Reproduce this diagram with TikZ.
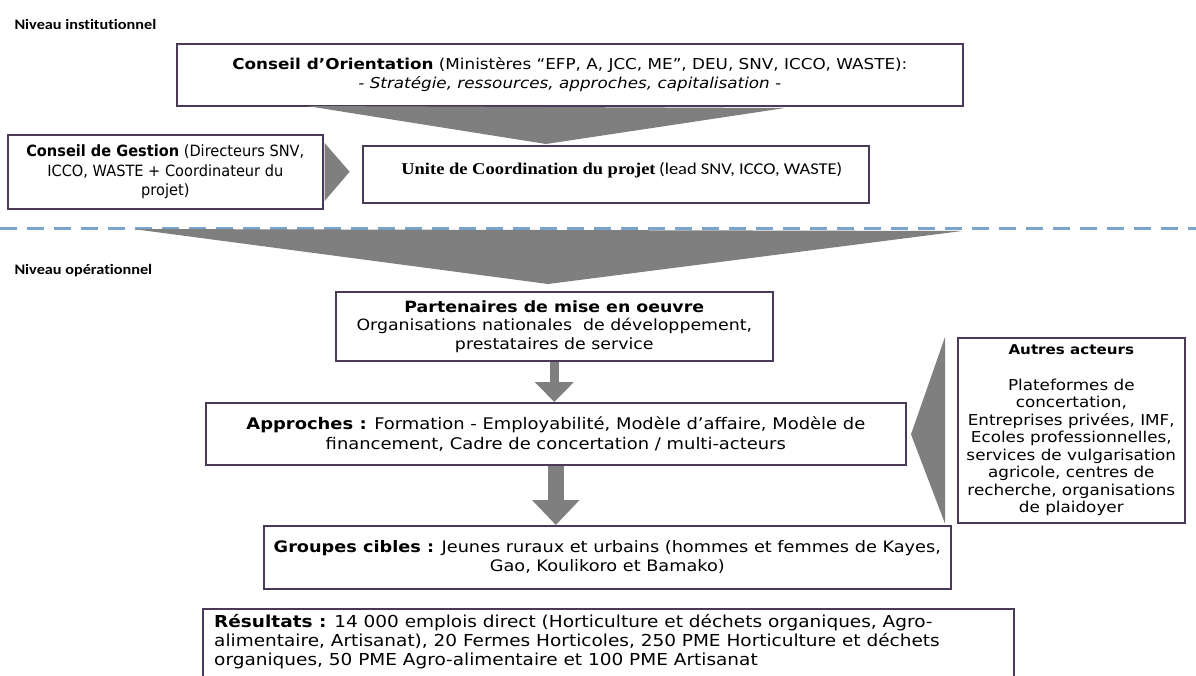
\documentclass[tikz,border=0pt]{standalone}
\usepackage{fontspec}
\setmainfont{DejaVu Sans}[FakeStretch=1.12]
\newfontfamily\plainfont{DejaVu Sans}[FakeStretch=0.94]
\newfontfamily\labfont{Carlito}[FakeStretch=1.12, Ligatures=NoCommon]
\newfontfamily\serfont{Liberation Serif}[FakeStretch=1.12]
\usetikzlibrary{arrows.meta,calc}

\definecolor{boxline}{RGB}{74,58,88}
\definecolor{chevgray}{RGB}{127,127,127}
\definecolor{dashblue}{RGB}{121,165,204}

\tikzset{
  blok/.style={draw=boxline, line width=1.6pt, fill=white, inner sep=0pt,
    align=center, anchor=north west},
  chev/.style={fill=chevgray},
  niveau/.style={anchor=west, font=\labfont\bfseries\fontsize{14.5}{16}\selectfont},
  flow/.style={draw=chevgray, line width=#1}
}

\begin{document}
\begin{tikzpicture}[x=1pt,y=-1pt]
\useasboundingbox (0,0) rectangle (1196,675);

% niveau institutionnel
\node[niveau] (lblinst) at (11,24) {Niveau institutionnel};

\node[blok, minimum width=786, minimum height=62, font=\fontsize{15}{19}\selectfont] (cdo) at (176,43)
  {\textbf{Conseil d’Orientation} (Ministères “EFP, A, JCC, ME”, DEU, SNV, ICCO, WASTE):\\
   \textit{- Stratégie, ressources, approches, capitalisation -}};

\fill[chev] (307,106) -- (785,108) -- (546,144) -- cycle;

\node[blok, minimum width=315, minimum height=74, font=\plainfont\fontsize{15.5}{19.5}\selectfont] (cdg) at (7,134)
  {\textbf{Conseil de Gestion} (Directeurs SNV,\\ICCO, WASTE + Coordinateur du\\projet)};

\fill[chev] ([xshift=1]cdg.north east |- 0,143) -- ([xshift=26]cdg.east) -- ([xshift=1]cdg.north east |- 0,201) -- cycle;

\node[blok, minimum width=506, minimum height=57] (unite) at (362,145) {};
\node[inner sep=0pt] (unitetxt) at ([xshift=6pt,yshift=4pt]unite.center)
  {{\serfont\bfseries\fontsize{16.5}{18}\selectfont Unite de Coordination du projet}
   {\labfont\fontsize{16.5}{18}\selectfont (lead SNV, ICCO, WASTE)}};

% separation
\draw[dashblue, line width=3pt, dash pattern=on 17pt off 10pt] (0,228) -- (1196,228);

% niveau operationnel
\fill[chev] (133,229) -- (962,231) -- (548,284) -- cycle;
\node[niveau] (lblop) at (11,271) {Niveau opérationnel};

\node[blok, minimum width=437, minimum height=69, font=\fontsize{15.5}{18.5}\selectfont] (part) at (335,291)
  {\textbf{Partenaires de mise en oeuvre}\\Organisations nationales\ \ de développement,\\prestataires de service};

\node[blok, minimum width=700, minimum height=62, font=\fontsize{16}{19.5}\selectfont] (appr) at (205,402)
  {\textbf{Approches :} Formation - Employabilité, Modèle d’affaire, Modèle de\\
   financement, Cadre de concertation / multi-acteurs};

\node[blok, minimum width=687, minimum height=63, font=\fontsize{15.8}{19}\selectfont] (grp) at (263,525)
  {\textbf{Groupes cibles :} Jeunes ruraux et urbains (hommes et femmes de Kayes,\\
   Gao, Koulikoro et Bamako)};

\node[blok, minimum width=811, minimum height=80] (res) at (202,608) {};
\node[anchor=north west, align=left, inner sep=0pt, font=\fontsize{16.5}{19}\selectfont]
  (restxt) at ([xshift=12,yshift=-6]res.north west)
  {\textbf{Résultats :} 14 000 emplois direct (Horticulture et déchets organiques, Agro-\\
   alimentaire, Artisanat), 20 Fermes Horticoles, 250 PME Horticulture et déchets\\
   organiques, 50 PME Agro-alimentaire et 100 PME Artisanat};

\node[blok, minimum width=227, minimum height=185,
      font=\fontsize{15}{17.5}\selectfont] (autres) at (957,337)
  {{\bfseries\fontsize{13.5}{17.5}\selectfont Autres acteurs}\\[18pt]
   Plateformes de\\concertation,\\Entreprises privées, IMF,\\Ecoles professionnelles,\\
   services de vulgarisation\\agricole, centres de\\recherche, organisations\\de plaidoyer};

\fill[chev] ([xshift=-12]autres.north west) -- ([xshift=-46,yshift=-4]autres.west)
  -- ([xshift=-12]autres.south west) -- cycle;

% fleches
\draw[flow=9pt, -{Triangle[width=38pt,length=20pt]}] (part.south) -- (part.south |- appr.north);
\draw[flow=16pt, -{Triangle[width=46pt,length=25pt]}] (appr.south) -- (appr.south |- grp.north);
\end{tikzpicture}
\end{document}
